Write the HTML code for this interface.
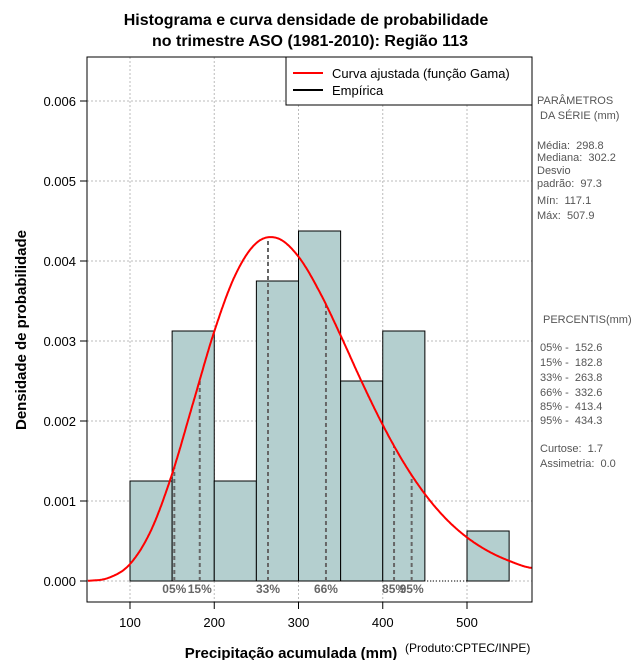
<!DOCTYPE html>
<html><head><meta charset="utf-8"><style>
body{margin:0;background:#fff;width:640px;height:660px;overflow:hidden;font-family:"Liberation Sans",sans-serif}
text{white-space:pre}
</style></head><body>
<svg id="chart" width="640" height="660" xmlns="http://www.w3.org/2000/svg" font-family="Liberation Sans, sans-serif">
<text x="306" y="25" text-anchor="middle" font-size="16" font-weight="bold">Histograma e curva densidade de probabilidade</text>
<text x="310" y="46" text-anchor="middle" font-size="16" font-weight="bold">no trimestre ASO (1981-2010): Região 113</text>
<g id="grid"></g>
<g id="bars"></g>
<g id="pct"></g>
<path id="curve" fill="none" stroke="#ff0000" stroke-width="2"/>
<rect x="87" y="57" width="445" height="545" fill="none" stroke="#000"/>
<g id="axes"></g>
<text transform="translate(26,330) rotate(-90)" text-anchor="middle" font-size="15" font-weight="bold">Densidade de probabilidade</text>
<text x="291" y="658" text-anchor="middle" font-size="15" font-weight="bold">Precipitação acumulada (mm)</text>
<text x="405" y="652" font-size="12">(Produto:CPTEC/INPE)</text>
<g>
<rect x="286" y="57" width="246" height="48" fill="#fff" stroke="#000"/>
<line x1="293" y1="73" x2="323" y2="73" stroke="#ff0000" stroke-width="2"/>
<text x="332" y="78" font-size="13">Curva ajustada (função Gama)</text>
<line x1="293" y1="90" x2="323" y2="90" stroke="#000" stroke-width="2"/>
<text x="332" y="95" font-size="13">Empírica</text>
</g>
<g font-size="11" fill="#555">
<text x="537" y="104">PARÂMETROS</text><text x="540" y="119">DA SÉRIE (mm)</text>
<text x="537" y="149">Média:  298.8</text><text x="537" y="161">Mediana:  302.2</text>
<text x="537" y="174">Desvio</text><text x="537" y="187">padrão:  97.3</text>
<text x="537" y="204">Mín:  117.1</text><text x="537" y="219">Máx:  507.9</text>
<text x="543" y="323">PERCENTIS(mm)</text>
<text x="540" y="351">05% -  152.6</text><text x="540" y="366">15% -  182.8</text>
<text x="540" y="381">33% -  263.8</text><text x="540" y="396">66% -  332.6</text>
<text x="540" y="410">85% -  413.4</text><text x="540" y="424">95% -  434.3</text>
<text x="540" y="452">Curtose:  1.7</text><text x="540" y="467">Assimetria:  0.0</text>
</g>
</svg>
<script>
const binEdges=[100,150,200,250,300,350,400,450,500];
const binDensity=[0.00125,0.003125,0.00125,0.00375,0.004375,0.0025,0.003125,0,0.000625];
const curveX=[50,75,100,125,150,175,200,225,250,275,300,325,350,375,400,425,450,475,500,525,550,575];
const curveY=[0.000003,0.000041,0.000212,0.000634,0.001339,0.002229,0.003119,0.003825,0.004225,0.004285,0.004054,0.003615,0.003069,0.002491,0.001951,0.001478,0.001087,0.000778,0.000545,0.000374,0.000252,0.000166];
const pctLabels=["05%","15%","33%","66%","85%","95%"];
const pctValues=[152.6,182.8,263.8,332.6,413.4,434.3];
const xTicks=[100,200,300,400,500];
const yTicks=[0,0.001,0.002,0.003,0.004,0.005,0.006];
const yTickLabels=["0.000","0.001","0.002","0.003","0.004","0.005","0.006"];
const binWidth=50;
const NS="http://www.w3.org/2000/svg";
const X=v=>130+(v-100)*0.8425;
const Y=v=>581-v*80000;
function mk(t,a,p){const e=document.createElementNS(NS,t);for(const k in a)e.setAttribute(k,a[k]);p.appendChild(e);return e;}
const grid=document.getElementById('grid'),axes=document.getElementById('axes');
xTicks.forEach(t=>{
 const l=mk('line',{x1:X(t),x2:X(t),y1:57,y2:602,stroke:'#bbb','stroke-dasharray':'2,2'},grid);
 
 
 mk('line',{x1:X(t),x2:X(t),y1:602,y2:609,stroke:'#000'},axes);
 const tx=mk('text',{x:X(t),y:627,'text-anchor':'middle','font-size':13},axes);tx.textContent=t;
 
 
});
yTicks.forEach((t,i)=>{
 const l=mk('line',{x1:87,x2:532,y1:Y(t),y2:Y(t),stroke:'#bbb','stroke-dasharray':'2,2'},grid);
 
 
 mk('line',{x1:80,x2:87,y1:Y(t),y2:Y(t),stroke:'#000'},axes);
 const tx=mk('text',{x:76,y:Y(t)+5,'text-anchor':'end','font-size':13},axes);tx.textContent=yTickLabels[i];
 
 
});
const bars=document.getElementById('bars');
binEdges.forEach((e,i)=>{
 if(binDensity[i]<=0)return;
 const r=mk('rect',{x:X(e),y:Y(binDensity[i]),width:X(e+binWidth)-X(e),height:Y(0)-Y(binDensity[i]),fill:'#b4cfcf',stroke:'#000'},bars);
 
 
});
mk('line',{x1:X(binEdges[0]),x2:X(binEdges[binEdges.length-1]+binWidth),y1:Y(0),y2:Y(0),stroke:'#000','stroke-dasharray':'1,2'},bars);
// Catmull-Rom interpolation through sampled curve points
function interp(x){
 const n=curveX.length;
 if(x<=curveX[0])return curveY[0];
 if(x>=curveX[n-1])return curveY[n-1];
 let i=0;while(i<n-2&&x>curveX[i+1])i++;
 const t=(x-curveX[i])/(curveX[i+1]-curveX[i]);
 const p0=curveY[Math.max(i-1,0)],p1=curveY[i],p2=curveY[i+1],p3=curveY[Math.min(i+2,n-1)];
 const t2=t*t,t3=t2*t;
 return 0.5*((2*p1)+(-p0+p2)*t+(2*p0-5*p1+4*p2-p3)*t2+(-p0+3*p1-3*p2+p3)*t3);
}
const pct=document.getElementById('pct');
pctValues.forEach((v,i)=>{
 const l=mk('line',{x1:X(v),x2:X(v),y1:Y(0),y2:Y(interp(v)),stroke:'#666','stroke-width':2,'stroke-dasharray':'4,3'},pct);
 
 
 const t=mk('text',{x:X(v),y:593,'text-anchor':'middle','font-size':12,'font-weight':'bold',fill:'#666'},pct);t.textContent=pctLabels[i];
 
 
});
let d='';
for(let x=50;x<=577;x+=1){d+=(d?'L':'M')+X(x).toFixed(1)+','+Y(interp(Math.min(x,575))).toFixed(1);}
document.getElementById('curve').setAttribute('d',d);
</script>
</body></html>
